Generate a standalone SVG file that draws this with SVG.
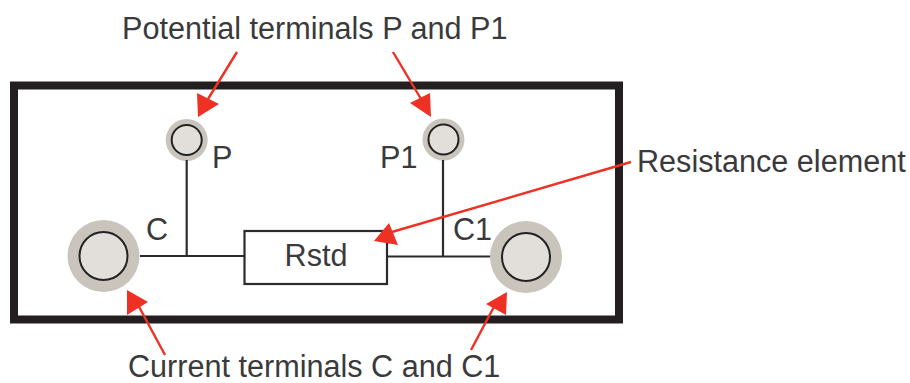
<svg xmlns="http://www.w3.org/2000/svg" width="910" height="383" viewBox="0 0 910 383">
<style>
text{font-family:"Liberation Sans",Arial,sans-serif;font-size:30.6px;fill:#3a3a3c}
.w{fill:none;stroke:#2b2b2b;stroke-width:2.2}
.a{fill:none;stroke:#ee3124;stroke-width:2.4}
.h{fill:#ee3124;stroke:none}
.o{fill:#c9c4bc}
.i{fill:#e2dfda;stroke:#222;stroke-width:2}
</style>
<rect width="910" height="383" fill="#fff"/>
<g id="frame"><rect x="14" y="85.5" width="605" height="234" fill="none" stroke="#231f20" stroke-width="8"/></g>
<g id="node-p"><circle class="o" cx="186.7" cy="140" r="21"/><circle class="i" cx="186.7" cy="140" r="15"/><text x="212" y="168">P</text></g>
<g id="node-p1"><circle class="o" cx="443.5" cy="139.5" r="21"/><circle class="i" cx="443.5" cy="139.5" r="15"/><text x="380" y="168">P1</text></g>
<g id="node-c"><circle class="o" cx="103.5" cy="256" r="36"/><circle class="i" cx="103.5" cy="256" r="24"/><text x="146" y="240">C</text></g>
<g id="node-c1"><circle class="o" cx="526" cy="257" r="36"/><circle class="i" cx="526" cy="257" r="24"/><text x="453" y="240">C1</text></g>
<g id="node-rstd"><rect x="244.5" y="231" width="142.5" height="53" fill="#fff" stroke="#2b2b2b" stroke-width="2.2"/><text x="316" y="266" text-anchor="middle">Rstd</text></g>
<g id="connectors">
<path class="w" d="M140 256H244.5M186.7 160V256M387 256.5H490M443 160V256.5"/>
<path class="a" d="M237 52L208 99M393 52L421 99M631 162L385 234M165 355L137 303M471 350L496 303"/>
<polygon class="h" points="198,117 197,93 219,104"/>
<polygon class="h" points="431,117 410,103 430,93"/>
<polygon class="h" points="374,241 389,223 398,245"/>
<polygon class="h" points="127,290 148,302 127,315"/>
<polygon class="h" points="507,292 486,304 506,315"/>
</g>
<g id="labels">
<text x="122" y="39">Potential terminals P and P1</text>
<text x="637" y="172">Resistance element</text>
<text x="128" y="377">Current terminals C and C1</text>
</g>
</svg>
